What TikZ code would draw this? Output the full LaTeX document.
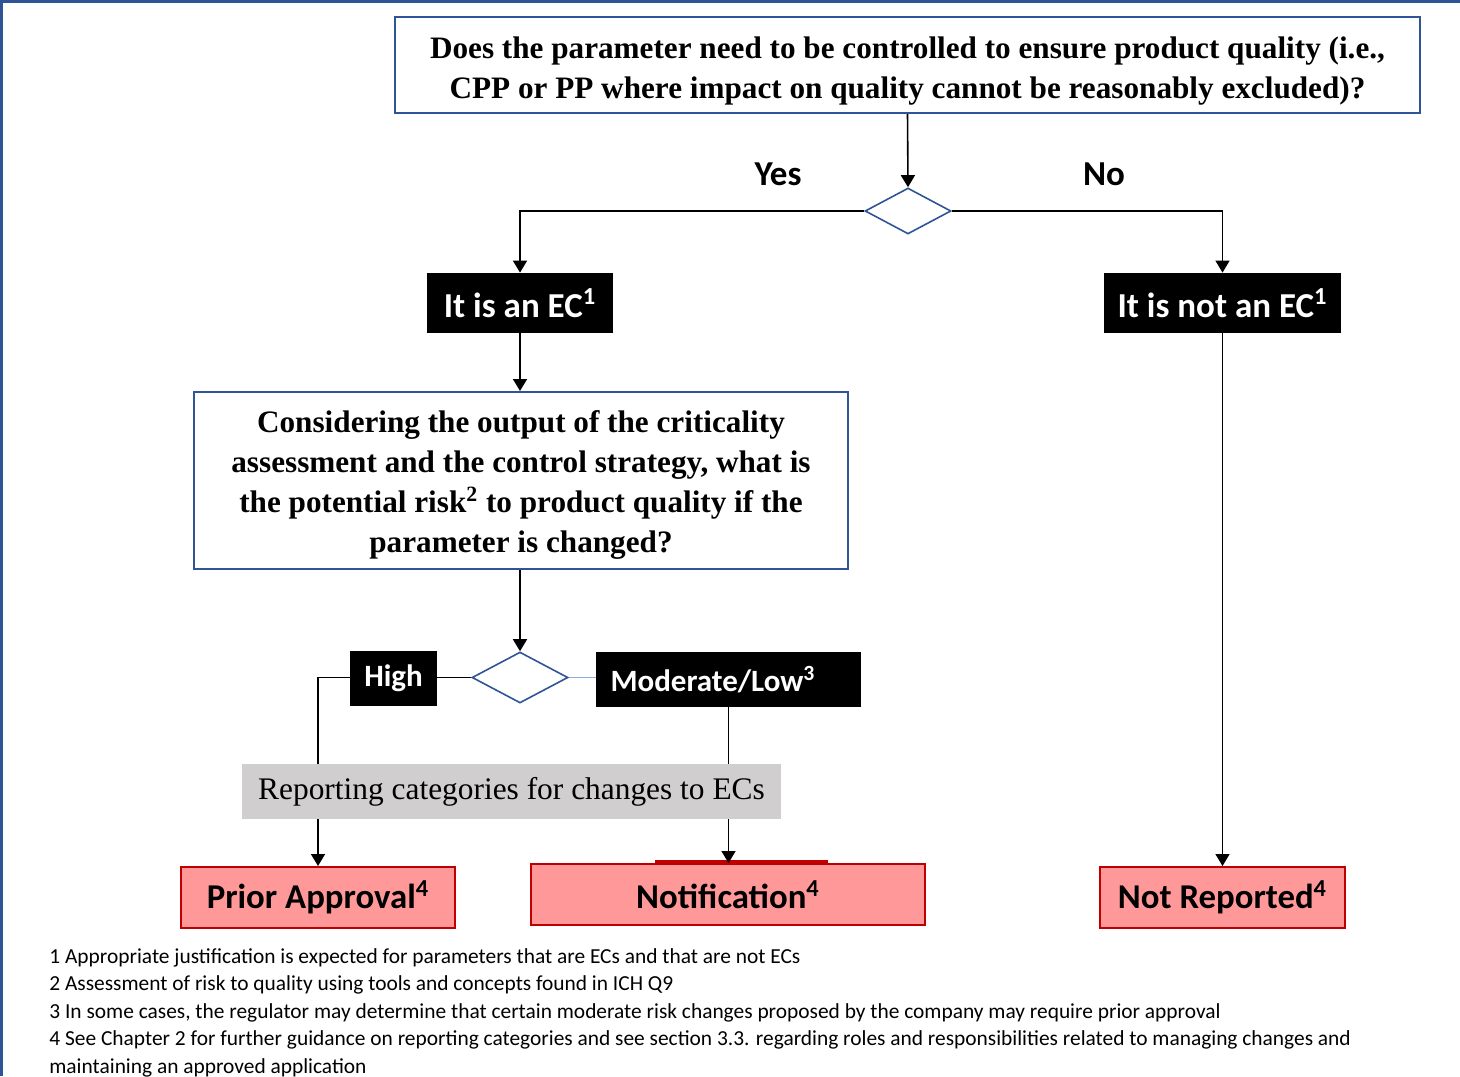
\documentclass[tikz,border=0pt]{standalone}
\usepackage{fontspec}
\setmainfont{Liberation Serif}
\newfontfamily\calibri{Carlito}
\usetikzlibrary{shapes.geometric,arrows.meta}

\definecolor{frameblue}{HTML}{2F5496}
\definecolor{boxblue}{HTML}{2F5597}
\definecolor{lightline}{HTML}{8FAADC}
\definecolor{catgray}{HTML}{D0CECE}
\definecolor{outfill}{HTML}{FF9999}
\definecolor{outred}{HTML}{C00000}

\tikzset{
  qbox/.style={draw=boxblue, line width=1pt, fill=white, align=center, inner sep=0pt,
    font=\bfseries\fontsize{15.6}{20}\selectfont},
  ecbox/.style={fill=black, text=white, inner sep=0pt,
    font=\calibri\bfseries\fontsize{17.5}{19}\selectfont},
  smallbox/.style={ecbox, font=\calibri\bfseries\fontsize{15.5}{18}\selectfont},
  choice/.style={diamond, draw=boxblue, line width=0.8pt, fill=white, inner sep=0pt},
  outbox/.style={draw=outred, line width=1pt, fill=outfill, inner sep=0pt,
    font=\calibri\bfseries\fontsize{17.4}{19}\selectfont},
  answer/.style={font=\calibri\bfseries\fontsize{17.5}{19}\selectfont},
  conn/.style={line width=0.8pt},
  arr/.style={conn, -{Triangle[length=6pt,width=7pt]}}
}

\begin{document}
\begin{tikzpicture}[x=0.5pt,y=-0.5pt]
\useasboundingbox (0,0) rectangle (1460,1076);
\draw[frameblue, line width=1.5pt] (1,1076) -- (1,1) -- (1460,1);

\node[qbox, minimum width=512.5pt, minimum height=48pt] (q1) at (907.5,65)
  {\rule{0pt}{17pt}Does the parameter need to be controlled to ensure product quality (i.e.,\\
   CPP or PP where impact on quality cannot be reasonably excluded)?};
\node[choice, minimum width=43pt, minimum height=23pt] (d1) at (908,211) {};
\node[answer] (yes) at (778,174) {Yes};
\node[answer] (no) at (1104,174) {No};

\node[ecbox, minimum width=93pt, minimum height=30pt] (ec) at (520,303) {It is an EC\textsuperscript{1}};
\node[ecbox, minimum width=118.5pt, minimum height=30pt] (notec) at (1222.5,303) {It is not an EC\textsuperscript{1}};

\node[qbox, minimum width=327pt, minimum height=88.5pt] (q2) at (521,480.5)
  {\rule{0pt}{15pt}Considering the output of the criticality\\
   assessment and the control strategy, what is\\
   the potential risk\textsuperscript{2} to product quality if the\\
   parameter is changed?};

\node[choice, minimum width=48pt, minimum height=25.5pt] (d2) at (520,677.5) {};
\node[smallbox, minimum width=43.5pt, minimum height=27.5pt] (high) at (393.5,678.5) {High};
\node[smallbox, minimum width=132.5pt, minimum height=27.5pt, text width=118pt, align=left]
  (mod) at (728.5,679.5) {Moderate/Low\textsuperscript{3}};

\node[outbox, minimum width=137pt, minimum height=30.5pt] (prior) at (318,897.5) {Prior Approval\textsuperscript{4}};
\node[outbox, minimum width=197pt, minimum height=30.5pt] (notif) at (728,894.5) {Notification\textsuperscript{4}};
\node[outbox, minimum width=122.5pt, minimum height=30.5pt] (notrep) at (1222.5,897.5) {Not Reported\textsuperscript{4}};
\draw[outred, line width=1.5pt] ([xshift=-36.5pt,yshift=1pt]notif.north) -- ([xshift=50pt,yshift=1pt]notif.north);

% connectors
\draw[arr] (q1.south) -- (d1.north);
\draw[arr] (d1.west) -| (ec.north);
\draw[arr] (d1.east) -| (notec.north);
\draw[arr] (ec.south) -- (q2.north -| ec.south);
\draw[arr] (q2.south -| d2.north) -- (d2.north);
\draw[conn] (d2.west) -- (high.east |- d2.west);
\draw[lightline, line width=0.6pt] (d2.east) -- (mod.west |- d2.east);
\draw[arr] (high.west |- d2.west) -| (prior.north);
\draw[arr] (mod.south) -- (mod.south |- notif.north);
\draw[arr] (notec.south) -- (notrep.north);

\node[fill=catgray, minimum width=269.5pt, minimum height=27.5pt, inner sep=0pt,
  font=\fontsize{15.7}{18}\selectfont] (cat) at (511.5,791.5) {Reporting categories for changes to ECs};

\node[anchor=north west, align=left, inner sep=0pt,
  font=\calibri\fontsize{10.7}{13.75}\selectfont] (notes) at (49,948)
  {1 Appropriate justification is expected for parameters that are ECs and that are not ECs\\
   2 Assessment of risk to quality using tools and concepts found in ICH Q9\\
   3 In some cases, the regulator may determine that certain moderate risk changes proposed by the company may require prior approval\\
   4 See Chapter 2 for further guidance on reporting categories and see section 3.3. regarding roles and responsibilities related to managing changes and\\
   maintaining an approved application};
\end{tikzpicture}
\end{document}
